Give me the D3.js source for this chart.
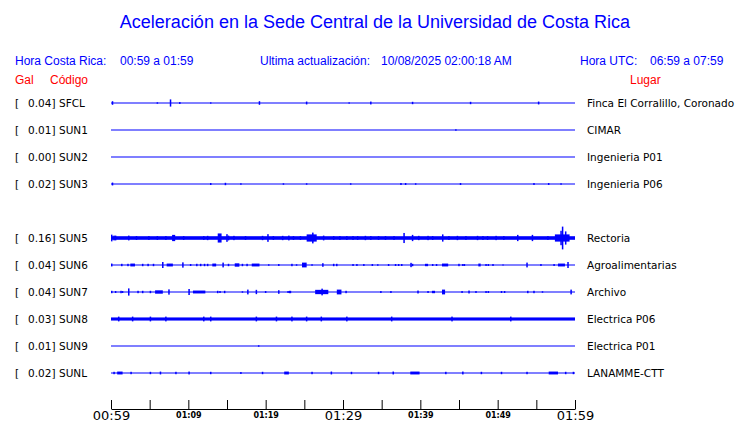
<!DOCTYPE html>
<html>
<head>
<meta charset="utf-8">
<script src="https://cdn.jsdelivr.net/npm/d3@7"></script>
<style>
  body { margin: 0; background: #fff; }
  svg { display: block; }
</style>
</head>
<body>
<div id="graph"></div>
<script>
// Estaciones (códigos, PGA en gal, lugar)
var codigos = ["SFCL", "SUN1", "SUN2", "SUN3", "SUN5", "SUN6", "SUN7", "SUN8", "SUN9", "SUNL"];
var pga = [0.04, 0.01, 0.00, 0.02, 0.16, 0.04, 0.04, 0.03, 0.01, 0.02];
var lugares = ["Finca El Corralillo, Coronado", "CIMAR", "Ingenieria P01", "Ingenieria P06",
               "Rectoria", "Agroalimentarias", "Archivo", "Electrica P06", "Electrica P01", "LANAMME-CTT"];
// fila de cada estación (la fila 4 queda vacía)
var filas = [0, 1, 2, 3, 5, 6, 7, 8, 9, 10];
// nivel de ruido de fondo (amplitud relativa)
var ruido = [0, 0, 0, 0, 0.15, 0, 0, 0.13, 0, 0];

// eventos por estación: [minuto, duración (min), amplitud relativa]
var evSFCL = [[0.1,0,0.15],[5.9,0,0.06],[7.6,0,0.3],[8.8,0,0.08],[12.8,0,0.05],[19.1,0,0.15],[25.2,0,0.12],
  [30.7,0,0.05],[33.5,0,0.12],[38.9,0,0.1],[46.4,0,0.1],[55.2,0,0.12]];
var evSUN1 = [[44.5,0,0.06]];
var evSUN2 = [];
var evSUN3 = [[0.1,0,0.12],[12.8,0,0.08],[14.7,0,0.1],[16.7,0,0.06],[22.2,0,0.06],[25.2,0,0.06],[30.9,0,0.06],
  [37.4,0,0.08],[38.0,0,0.08],[39.3,0,0.06],[45.1,0,0.08],[54.6,0,0.08],[56.5,0,0.08],[58.1,0,0.06]];
var evSUN5 = [[0.0,0,0.28],[0.3,0,0.2],[0.5,0,0.2],[2.2,0,0.2],[3.2,0,0.16],[4.8,0,0.16],[5.9,0,0.16],[7.0,0,0.16],
  [7.9,0.4,0.26],[9.3,0,0.16],[11.9,0,0.16],[12.4,0,0.18],[13.8,0.5,0.38],[14.9,0,0.32],[15.1,0,0.2],[15.8,0,0.18],
  [17.3,0,0.16],[19.5,0,0.18],[20.2,0,0.32],[20.9,0,0.16],[22.1,0.2,0.18],[22.9,0,0.2],[23.5,0,0.16],[24.4,0,0.16],
  [25.3,1.3,0.3],[26.0,0,0.45],[27.4,0,0.2],[28.7,0,0.16],[29.5,0,0.16],[30.4,0,0.16],[31.2,0,0.16],[31.8,0,0.16],
  [32.8,0,0.18],[33.5,0,0.16],[34.5,0,0.16],[35.4,0,0.16],[36.5,0,0.16],[37.8,0,0.42],[38.9,0,0.26],[39.7,0,0.18],
  [40.9,0,0.18],[41.5,0,0.16],[42.8,0,0.3],[43.6,0,0.16],[44.7,0,0.18],[45.8,0,0.16],[47.3,0,0.18],[48.0,0,0.16],
  [48.6,0,0.16],[49.7,0,0.18],[50.7,0,0.16],[52.5,0,0.26],[54.4,0,0.26],[56.4,0,0.16],[57.4,1.9,0.3],[58.1,0,0.6],
  [58.3,0,0.95],[58.7,0,0.55]];
var evSUN6 = [[0.0,0,0.12],[1.3,0,0.1],[2.1,0,0.1],[2.5,0.6,0.12],[4.0,0,0.1],[4.7,0,0.1],[5.4,0,0.1],[6.6,0,0.25],
  [7.2,0.8,0.12],[9.2,0,0.22],[10.2,0,0.08],[11.0,0,0.1],[11.5,0,0.1],[12.0,0,0.1],[12.4,0,0.1],[13.1,0.5,0.12],
  [14.4,0,0.2],[15.1,0,0.1],[16.0,0.6,0.14],[16.9,0,0.1],[17.5,0,0.1],[18.2,1.0,0.12],[20.3,0,0.06],[21.6,0,0.08],
  [23.3,0,0.1],[23.9,0,0.06],[24.7,0.6,0.2],[25.9,0,0.06],[27.3,0,0.15],[28.7,0,0.1],[29.1,0,0.1],[31.2,0,0.08],
  [31.7,0,0.08],[32.6,0,0.08],[33.7,0,0.08],[34.4,0,0.06],[35.8,0,0.08],[36.7,0,0.08],[37.1,0,0.08],[37.5,0,0.08],
  [38.7,0,0.18],[38.9,0,0.1],[40.6,0.4,0.1],[41.5,0,0.08],[42.0,0,0.08],[42.8,0.8,0.12],[44.9,0,0.1],[45.4,0,0.08],
  [45.6,0,0.08],[47.5,0.3,0.12],[48.4,0,0.08],[48.7,0,0.08],[49.3,0,0.08],[50.6,0,0.04],[53.7,0,0.2],[55.5,0,0.08],
  [57.2,0,0.08],[57.8,0.9,0.12],[59.0,0,0.25]];
var evSUN7 = [[0.0,0,0.1],[0.5,0,0.08],[1.2,0,0.1],[1.4,0,0.08],[2.2,0,0.3],[3.4,0,0.1],[4.0,0,0.1],[5.0,0,0.1],
  [5.7,1.0,0.14],[7.4,0,0.22],[10.0,0,0.25],[10.6,1.6,0.12],[13.7,0,0.1],[14.0,0,0.08],[14.6,0,0.1],[16.9,0,0.06],
  [17.6,0,0.2],[18.7,0,0.18],[19.9,0,0.08],[21.6,0,0.15],[22.8,0,0.08],[23.0,0.3,0.1],[26.4,1.7,0.18],[27.2,0,0.28],
  [29.2,0.6,0.2],[30.3,0,0.1],[34.8,0,0.08],[36.1,0,0.08],[39.6,0.2,0.12],[40.9,0,0.08],[41.5,0.4,0.1],[42.8,0.4,0.2],
  [45.3,0,0.08],[46.2,0,0.12],[47.1,0,0.08],[48.4,0,0.08],[48.7,0,0.08],[50.4,0,0.08],[50.8,0,0.08],[53.8,0,0.1],
  [54.6,0,0.1],[55.7,0,0.06],[59.4,0,0.2]];
var evSUN8 = [[0.9,0,0.2],[2.7,0,0.2],[5.0,0,0.2],[7.0,0,0.2],[11.9,0,0.2],[12.8,0,0.2],[18.7,0,0.2],[21.3,0,0.2],
  [23.3,0,0.2],[25.2,0,0.2],[27.1,0,0.2],[30.4,0,0.2],[36.2,0,0.2],[44.0,0,0.2],[51.6,0,0.2]];
var evSUN9 = [[19.0,0,0.06]];
var evSUNL = [[0.3,0,0.1],[0.8,0.7,0.12],[2.5,0,0.1],[5.0,0,0.1],[6.3,0,0.12],[8.3,0,0.1],[10.0,0,0.12],
  [12.8,0,0.1],[16.7,0,0.08],[19.5,0,0.1],[22.4,0.6,0.12],[25.9,0,0.1],[28.4,0,0.12],[31.0,0,0.1],
  [34.5,0,0.1],[36.4,0,0.12],[38.7,1.2,0.12],[43.2,0,0.1],[45.4,0,0.12],[47.8,0,0.1],[50.4,0,0.1],
  [53.7,0,0.1],[56.6,1.2,0.12],[58.7,0,0.1],[59.7,0,0.1]];
var eventos = [evSFCL, evSUN1, evSUN2, evSUN3, evSUN5, evSUN6, evSUN7, evSUN8, evSUN9, evSUNL];

// Etiquetas del eje de tiempo (cada 5 min, rotuladas cada 10)
var minutosEje = [0, 5, 10, 15, 20, 25, 30, 35, 40, 45, 50, 55, 60];
var etiquetasEje = ["00:59", "", "01:09", "", "01:19", "", "01:29", "", "01:39", "", "01:49", "", "01:59"];
var etiquetasGrandes = ["00:59", "01:29", "01:59"];

var azul = "#0000ff", rojo = "#ff0000";
var largo = 740, alto = 423;

var svg = d3.select("#graph").append("svg")
    .attr("width", largo)
    .attr("height", alto)
    .style("font-family", "'Liberation Sans', Arial, sans-serif");

// Escalas
var echelleX = d3.scaleLinear().domain([0, 60]).range([111, 575]);
var echelleFila = d3.scaleLinear().domain([0, 10]).range([103, 373]);
var echelleAmp = d3.scaleLinear().domain([-1, 1]).range([12, -12]);

// Titulo y encabezados
svg.append("text")
    .attr("x", 375).attr("y", 28)
    .attr("text-anchor", "middle")
    .attr("fill", azul)
    .style("font-size", "18px")
    .text("Aceleración en la Sede Central de la Universidad de Costa Rica");

var encabezados = [
  [15, "Hora Costa Rica:"], [120, "00:59 a 01:59"],
  [260, "Ultima actualización:"], [381, "10/08/2025 02:00:18 AM"],
  [580, "Hora UTC:"], [650, "06:59 a 07:59"]
];
svg.selectAll(".enc").data(encabezados).enter().append("text")
    .attr("class", "enc")
    .attr("x", function(d) { return d[0]; })
    .attr("y", 65)
    .attr("fill", azul)
    .style("font-size", "12px")
    .text(function(d) { return d[1]; });

svg.selectAll(".col").data([[15, "Gal"], [50, "Código"], [630, "Lugar"]]).enter().append("text")
    .attr("class", "col")
    .attr("x", function(d) { return d[0]; })
    .attr("y", 84)
    .attr("fill", rojo)
    .style("font-size", "12px")
    .text(function(d) { return d[1]; });

// Una fila por estación
var estaciones = codigos.map(function(c, i) {
  return { codigo: c, pga: pga[i], lugar: lugares[i], fila: filas[i], ruido: ruido[i], ev: eventos[i] };
});

var fila = svg.selectAll(".fila").data(estaciones).enter().append("g")
    .attr("class", "fila")
    .attr("transform", function(d) { return "translate(0," + echelleFila(d.fila) + ")"; })
    .style("font-family", "'DejaVu Sans', sans-serif")
    .style("font-size", "10.5px");

fila.append("text")
    .attr("x", 15).attr("y", 4)
    .text("[");
fila.append("text")
    .attr("x", 55.5).attr("y", 4)
    .attr("text-anchor", "end")
    .text(function(d) { return d.pga.toFixed(2) + "]"; });
fila.append("text")
    .attr("x", 59).attr("y", 4)
    .text(function(d) { return d.codigo; });
fila.append("text")
    .attr("x", 587).attr("y", 4)
    .text(function(d) { return d.lugar; });

// linea base (con ruido de fondo)
fila.append("rect")
    .attr("x", echelleX(0))
    .attr("width", echelleX(60) - echelleX(0))
    .attr("y", function(d) { return d.ruido > 0 ? echelleAmp(d.ruido) : -0.5; })
    .attr("height", function(d) { return d.ruido > 0 ? echelleAmp(-d.ruido) - echelleAmp(d.ruido) : 1; })
    .attr("fill", azul);

// eventos sismicos
fila.selectAll(".ev").data(function(d) { return d.ev; }).enter().append("rect")
    .attr("class", "ev")
    .attr("x", function(e) { return echelleX(e[0]); })
    .attr("width", function(e) { return Math.max(1.5, echelleX(e[0] + e[1]) - echelleX(e[0])); })
    .attr("y", function(e) { return echelleAmp(e[2]); })
    .attr("height", function(e) { return echelleAmp(-e[2]) - echelleAmp(e[2]); })
    .attr("fill", azul);

// Eje del tiempo
var axeX = d3.axisBottom(echelleX)
    .tickValues(minutosEje)
    .tickSizeInner(-9)
    .tickSizeOuter(0)
    .tickFormat(function(d, i) { return etiquetasEje[i]; });

var eje = svg.append("g")
    .attr("transform", "translate(0,409)")
    .call(axeX);
eje.select(".domain").attr("stroke", "#000");
eje.selectAll(".tick line").attr("stroke", "#000");
eje.selectAll(".tick text")
    .attr("fill", "#000")
    .attr("dy", null)
    .attr("y", function(d, i) { return etiquetasGrandes.indexOf(etiquetasEje[i]) >= 0 ? 11 : 9; })
    .style("font-family", "'DejaVu Sans', sans-serif")
    .style("font-size", function(d, i) { return etiquetasGrandes.indexOf(etiquetasEje[i]) >= 0 ? "13px" : "8px"; })
    .style("font-weight", function(d, i) { return etiquetasGrandes.indexOf(etiquetasEje[i]) >= 0 ? "normal" : "bold"; });
</script>
</body>
</html>
